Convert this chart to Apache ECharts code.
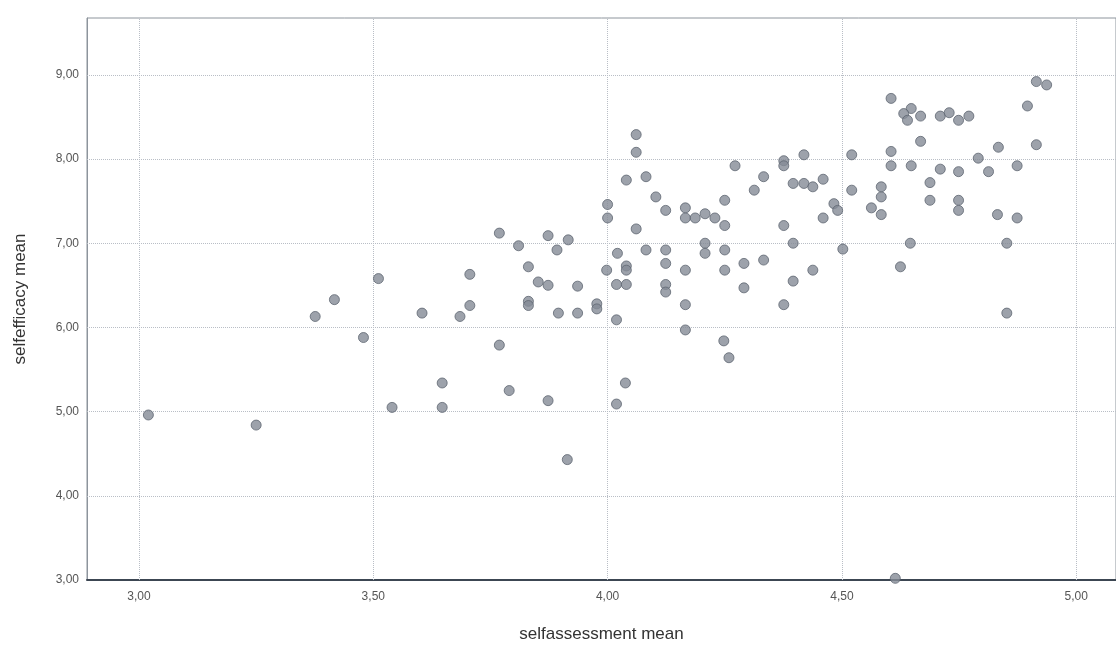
<!DOCTYPE html>
<html>
<head>
<meta charset="utf-8">
<script src="https://cdn.jsdelivr.net/npm/echarts@6/dist/echarts.min.js"></script>
<style>
  html, body { margin: 0; padding: 0; background: #fff; }
  #chart { width: 1116px; height: 648px; }
</style>
</head>
<body>
<div id="chart"></div>
<script>
// selfassessment mean (x), selfefficacy mean (y)
var selfassessment = [
  3.02, 3.25, 3.376, 3.417, 3.479, 3.511, 3.54, 3.604,
  4.061, 4.061, 4.272, 4.333, 4.04, 4.082, 4.103, 4.313, 4.25, 4.0, 4.124, 4.166,
  4.166, 4.187, 4.208, 4.229, 4.25, 4.0, 4.061, 3.769, 3.873, 3.916, 3.81, 3.892,
  4.208, 4.208, 4.082, 4.124, 4.25, 4.021, 4.124, 4.291, 4.333, 4.04, 4.04, 3.831,
  3.706, 3.998, 4.166, 4.25, 3.852, 3.873, 3.936, 4.019, 4.04, 4.124, 4.124, 4.291,
  3.706, 3.831, 3.831, 3.977, 3.977, 4.166,
  3.685, 3.895, 3.936, 4.019, 4.166, 3.769, 4.248, 4.259, 3.647, 3.647, 3.79, 3.873,
  4.038, 4.019, 3.914,
  4.915, 4.937, 4.605, 4.896, 4.648, 4.632, 4.64, 4.668, 4.71, 4.729, 4.749, 4.771,
  4.668, 4.915, 4.834, 4.419, 4.376, 4.376, 4.521, 4.605, 4.605, 4.648, 4.791, 4.874,
  4.71, 4.749, 4.813, 4.396, 4.419, 4.438, 4.46, 4.688, 4.521, 4.584, 4.584, 4.688,
  4.749, 4.749, 4.483, 4.491, 4.563, 4.584, 4.46, 4.832, 4.874, 4.376, 4.396, 4.646,
  4.852, 4.502, 4.438, 4.625, 4.396, 4.376, 4.852, 4.614
];
var selfefficacy = [
  4.96, 4.84, 6.13, 6.33, 5.88, 6.58, 5.05, 6.17,
  8.29, 8.08, 7.92, 7.79, 7.75, 7.79, 7.55, 7.63, 7.51, 7.46, 7.39, 7.42,
  7.30, 7.30, 7.35, 7.30, 7.21, 7.30, 7.17, 7.12, 7.09, 7.04, 6.97, 6.92,
  7.00, 6.88, 6.92, 6.92, 6.92, 6.88, 6.76, 6.76, 6.80, 6.73, 6.68, 6.72,
  6.63, 6.68, 6.68, 6.68, 6.54, 6.50, 6.49, 6.51, 6.51, 6.51, 6.42, 6.47,
  6.26, 6.31, 6.26, 6.28, 6.22, 6.27,
  6.13, 6.17, 6.17, 6.09, 5.97, 5.79, 5.84, 5.64, 5.34, 5.05, 5.25, 5.13,
  5.34, 5.09, 4.43,
  8.92, 8.88, 8.72, 8.63, 8.60, 8.54, 8.46, 8.51, 8.51, 8.55, 8.46, 8.51,
  8.21, 8.17, 8.14, 8.05, 7.98, 7.92, 8.05, 8.09, 7.92, 7.92, 8.01, 7.92,
  7.88, 7.85, 7.85, 7.71, 7.71, 7.67, 7.76, 7.72, 7.63, 7.67, 7.55, 7.51,
  7.51, 7.39, 7.47, 7.39, 7.42, 7.34, 7.30, 7.34, 7.30, 7.21, 7.00, 7.00,
  7.00, 6.93, 6.68, 6.72, 6.55, 6.27, 6.17, 3.02
];
var xTicks = [3.0, 3.5, 4.0, 4.5, 5.0];
var yTicks = [3.0, 4.0, 5.0, 6.0, 7.0, 8.0, 9.0];

var points = selfassessment.map(function (x, i) { return [x, selfefficacy[i]]; });

function comma(v) { return v.toFixed(2).replace('.', ','); }

var gridLines = [];
xTicks.forEach(function (v) { gridLines.push({ xAxis: v }); });
yTicks.slice(1).forEach(function (v) { gridLines.push({ yAxis: v }); });

var chart = echarts.init(document.getElementById('chart'));
chart.setOption({
  animation: false,
  grid: {
    left: 87, top: 18, right: -3, bottom: 64,
    show: true, borderColor: '#8d949c', borderWidth: 1, backgroundColor: '#fff'
  },
  xAxis: {
    type: 'value', min: 2.889, max: 5.085,
    name: 'selfassessment mean', nameLocation: 'middle', nameGap: 46,
    nameTextStyle: { fontFamily: 'Liberation Sans', fontSize: 17, color: '#333' },
    axisLine: { show: true, onZero: false, lineStyle: { color: '#3c4652', width: 2 } },
    axisTick: { show: false },
    splitLine: { show: false },
    axisLabel: {
      customValues: xTicks, formatter: comma, margin: 11,
      fontFamily: 'Liberation Sans', fontSize: 12, color: '#555'
    }
  },
  yAxis: {
    type: 'value', min: 3, max: 9.675,
    name: 'selfefficacy mean', nameLocation: 'middle', nameGap: 58,
    nameTextStyle: { fontFamily: 'Liberation Sans', fontSize: 17, color: '#333' },
    axisLine: { show: true, onZero: false, lineStyle: { color: '#8d949c', width: 1 } },
    axisTick: { show: false },
    splitLine: { show: false },
    axisLabel: {
      customValues: yTicks, formatter: comma, margin: 8,
      fontFamily: 'Liberation Sans', fontSize: 12, color: '#555'
    }
  },
  series: [{
    type: 'scatter',
    data: points,
    symbolSize: 10,
    itemStyle: { color: '#858b96', borderColor: '#5f6672', borderWidth: 1 },
    markLine: {
      silent: true, symbol: 'none', label: { show: false },
      lineStyle: { color: '#b9bec6', type: 'dotted', width: 1 },
      data: gridLines,
      z: 1
    },
    z: 3
  }]
});
</script>
</body>
</html>
